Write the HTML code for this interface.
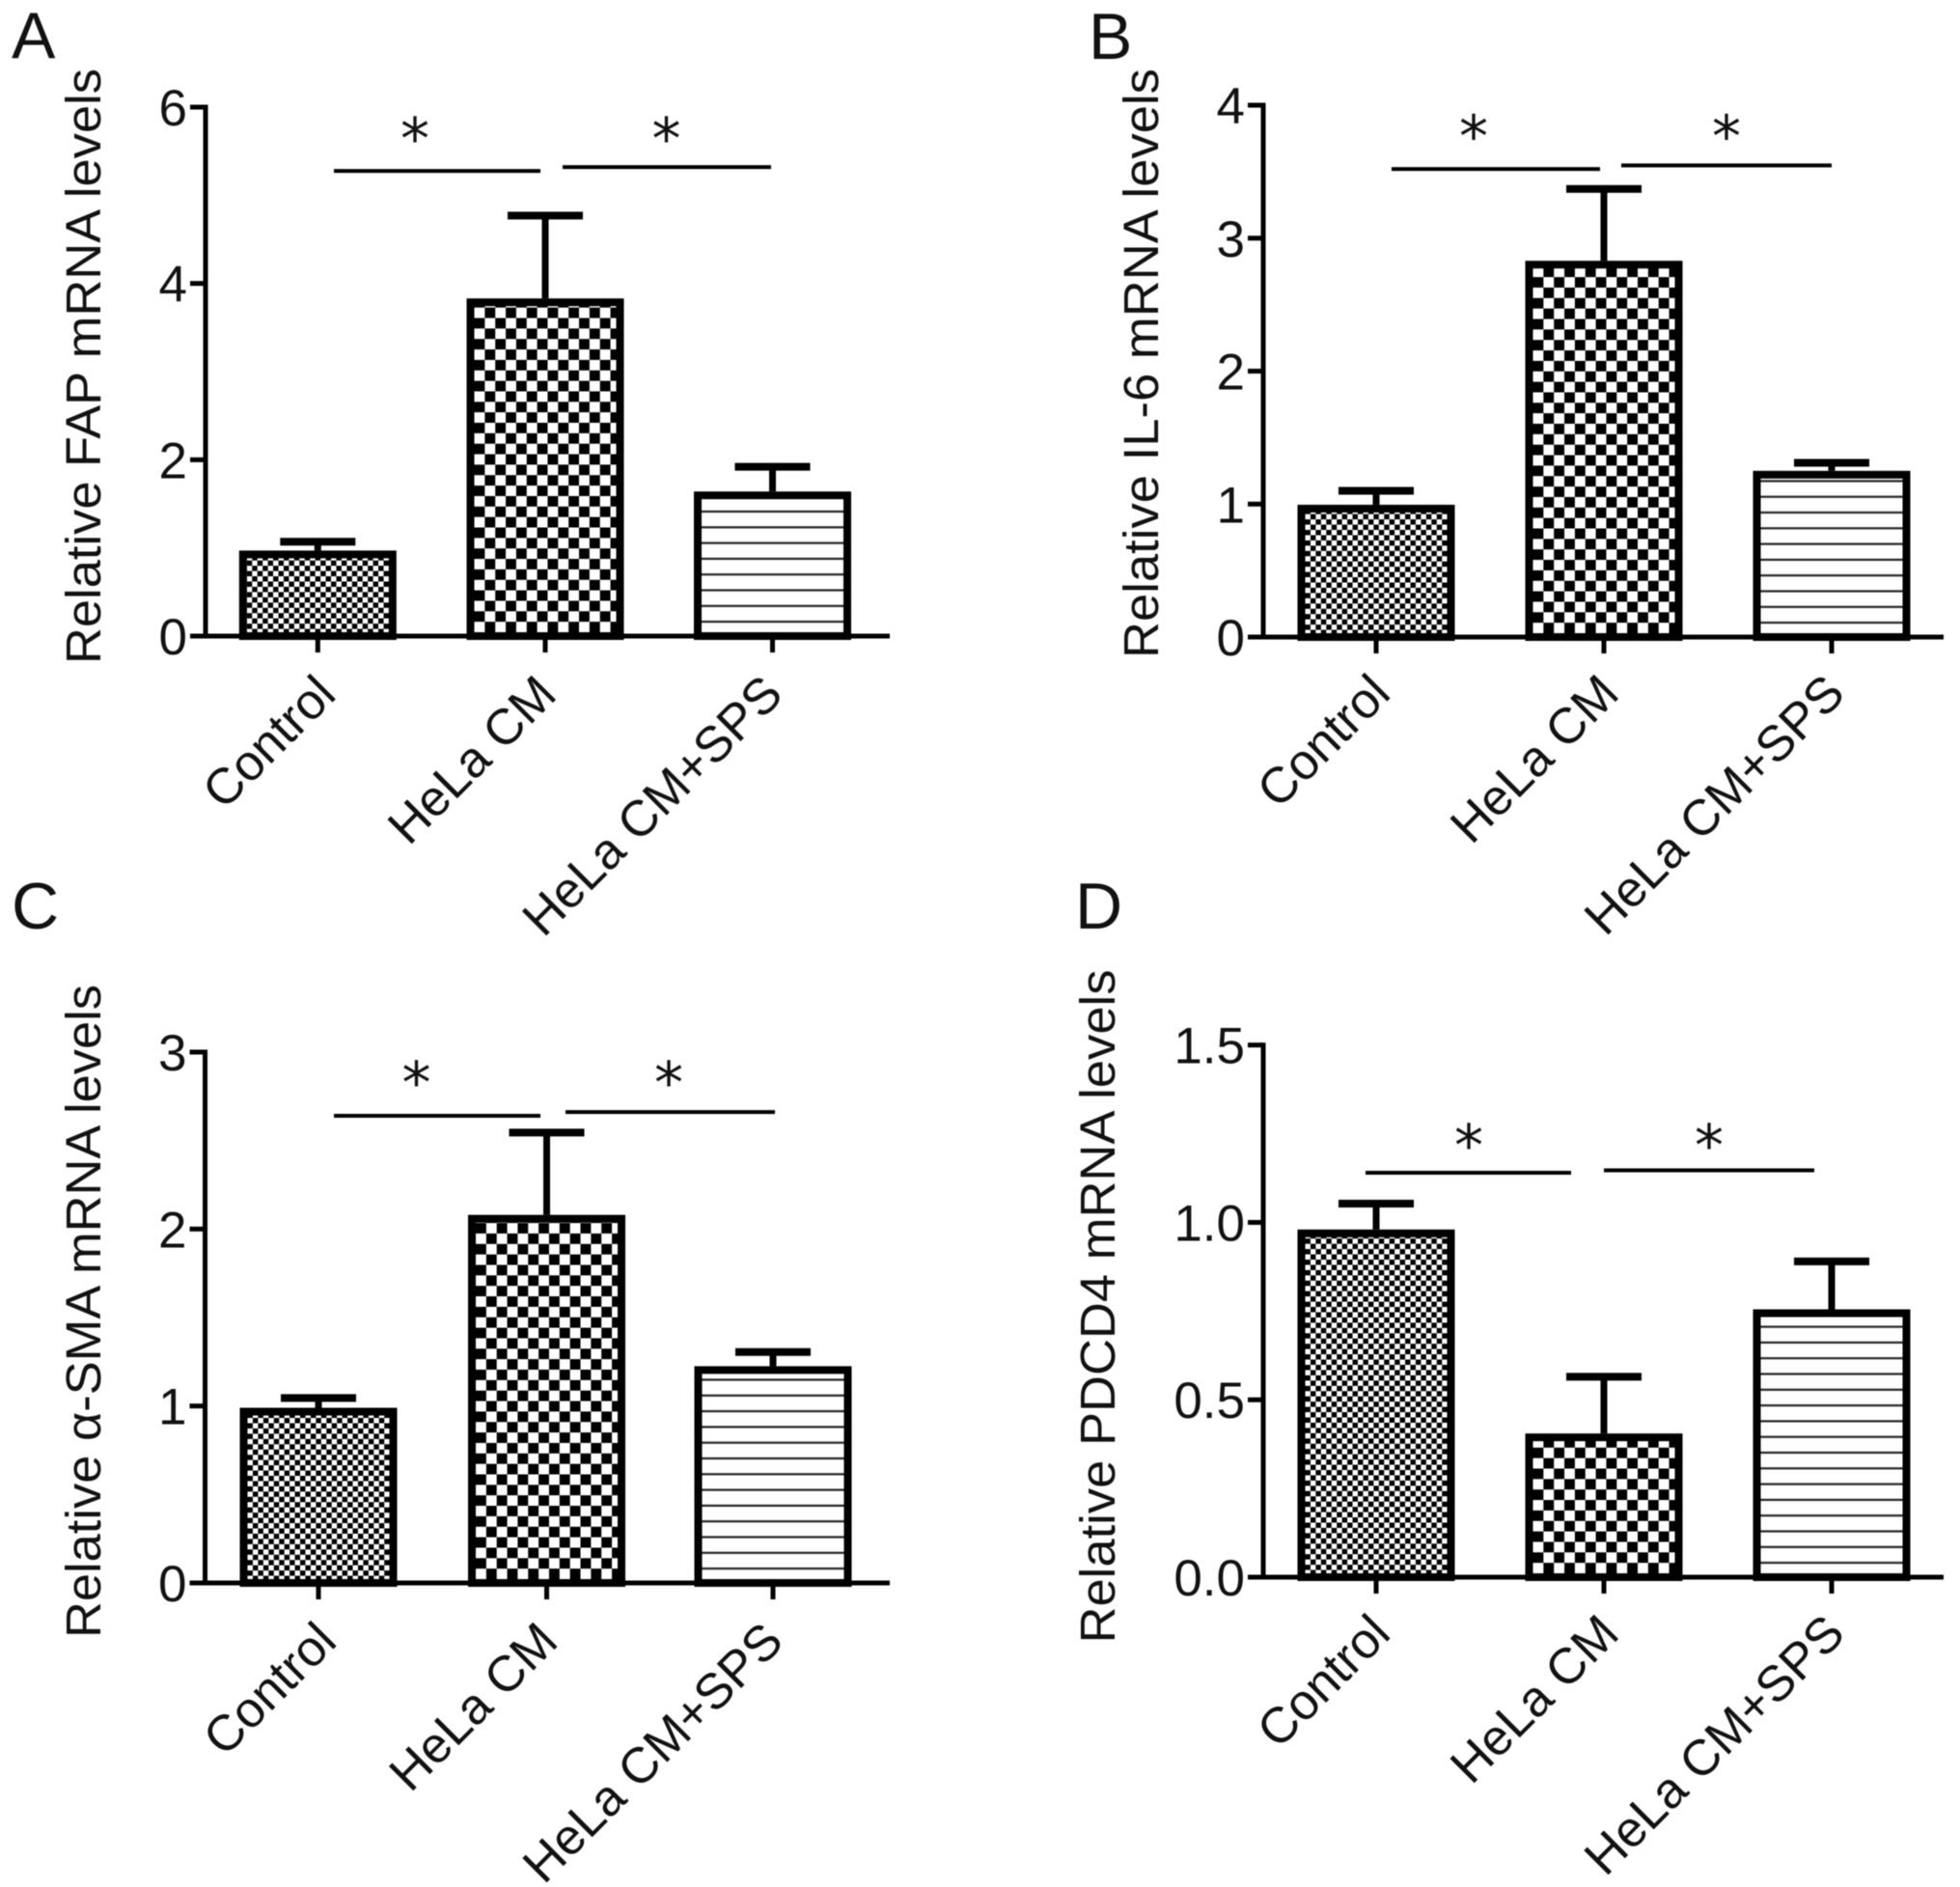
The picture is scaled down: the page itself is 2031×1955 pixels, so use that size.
<!DOCTYPE html>
<html lang="en">
<head>
<meta charset="utf-8">
<title>Relative mRNA levels</title>
<style>
html,body{margin:0;padding:0;background:#fff;}
svg{display:block;}
text{font-family:"Liberation Sans",Arial,sans-serif;fill:#111;}
</style>
</head>
<body>
<svg id="figure" xmlns="http://www.w3.org/2000/svg" width="2031" height="1955" viewBox="0 0 2031 1955">
<defs id="defs"></defs>
<rect x="0" y="0" width="2031" height="1955" fill="#fff"></rect>
<g id="root" style="filter:blur(0.6px)"></g>
</svg>
<script>
const categories = ["Control", "HeLa CM", "HeLa CM+SPS"];

const panelAValues = [0.97, 3.83, 1.64];
const panelAErrors = [0.10, 0.94, 0.28];
const panelATicks = ["0", "2", "4", "6"];
const panelASignificance = [5.276, 5.32];

const panelBValues = [0.995, 2.83, 1.25];
const panelBErrors = [0.105, 0.54, 0.06];
const panelBTicks = ["0", "1", "2", "3", "4"];
const panelBSignificance = [3.52, 3.547];

const panelCValues = [0.99, 2.08, 1.225];
const panelCErrors = [0.055, 0.465, 0.08];
const panelCTicks = ["0", "1", "2", "3"];
const panelCSignificance = [2.64, 2.661];

const panelDValues = [0.98, 0.405, 0.755];
const panelDErrors = [0.073, 0.16, 0.135];
const panelDTicks = ["0.0", "0.5", "1.0", "1.5"];
const panelDSignificance = [1.14, 1.147];

const layouts = [
  {id:"a", letter:"A", lx:12, ly:60, title:"Relative FAP mRNA levels", tx:104, ty:688, tl:617,
   axisX:213, top:111, base:659, right:922, centers:[329.3,565,800.5], sig:[[346,560],[583,799]], star:[430,690.5], starY:164.5,
   labelDx:[21,14,13], labelDy:63,
   values:panelAValues, errors:panelAErrors, ticks:panelATicks, sigv:panelASignificance},
  {id:"b", letter:"B", lx:1128, ly:61, title:"Relative IL-6 mRNA levels", tx:1200, ty:682, tl:611,
   axisX:1309, top:109, base:660, right:2014, centers:[1426,1662,1898], sig:[[1442,1658],[1680,1898]], star:[1527,1789], starY:162,
   labelDx:[17,18,16], labelDy:61,
   values:panelBValues, errors:panelBErrors, ticks:panelBTicks, sigv:panelBSignificance},
  {id:"c", letter:"C", lx:12, ly:962, title:"Relative \u03b1-SMA mRNA levels", tx:104, ty:1697, tl:677,
   axisX:212.5, top:1090, base:1640, right:922, centers:[330,566.5,801], sig:[[346,560],[586,803]], star:[431.5,693], starY:1142.5,
   labelDx:[21,14,13], labelDy:63,
   values:panelCValues, errors:panelCErrors, ticks:panelCTicks, sigv:panelCSignificance},
  {id:"d", letter:"D", lx:1114, ly:962, title:"Relative PDCD4 mRNA levels", tx:1155, ty:1702.5, tl:698,
   axisX:1309, top:1082.7, base:1634, right:2014, centers:[1426,1662,1898], sig:[[1415,1628],[1662,1880]], star:[1522,1771], starY:1207.5,
   labelDx:[17,18,16], labelDy:61,
   values:panelDValues, errors:panelDErrors, ticks:panelDTicks, sigv:panelDSignificance}
];

const NS = "http://www.w3.org/2000/svg";
const root = document.getElementById("root");
const defs = document.getElementById("defs");
const BAR_WIDTH = 163, BORDER = 8, CAP = 78;

function make(tag, parent, attrs, text) {
  const el = document.createElementNS(NS, tag);
  for (const k in attrs) el.setAttribute(k, attrs[k]);
  if (text !== undefined) el.textContent = text;
  parent.appendChild(el);
  return el;
}

function makeFill(kind, id, left, bottom) {
  let p;
  if (kind === 0 || kind === 1) {
    const cell = kind === 0 ? 5.45 : 10.85;
    const anchor = kind === 0 ? bottom - 2 : bottom - 4;
    p = make("pattern", defs, {id:id, patternUnits:"userSpaceOnUse", x:left, y:anchor, width:cell*2, height:cell*2});
    make("rect", p, {x:0, y:0, width:cell*2, height:cell*2, fill:"#fff"});
    make("rect", p, {x:0, y:0, width:cell, height:cell, fill:"#000"});
    make("rect", p, {x:cell, y:cell, width:cell, height:cell, fill:"#000"});
  } else {
    const period = 16.3;
    p = make("pattern", defs, {id:id, patternUnits:"userSpaceOnUse", x:left, y:bottom, width:period, height:period});
    make("rect", p, {x:0, y:0, width:period, height:period, fill:"#fff"});
    make("rect", p, {x:0, y:0.3, width:period, height:2.2, fill:"#222"});
  }
  return "url(#" + id + ")";
}

layouts.forEach(function (panel) {
  const maxValue = parseFloat(panel.ticks[panel.ticks.length - 1]);
  const yScale = function (v) { return panel.base - (v / maxValue) * (panel.base - panel.top); };
  const xScale = function (i) { return panel.centers[i]; };

  const g = make("g", root, {});
  
  

  const letter = make("text", g, {x:panel.lx, y:panel.ly, "font-size":68}, panel.letter);
  
  

  const title = make("text", g, {transform:"translate(" + panel.tx + "," + panel.ty + ") rotate(-90)", "font-size":51, textLength:panel.tl, lengthAdjust:"spacingAndGlyphs"}, panel.title);
  
  

  panel.values.forEach(function (value, i) {
    const cx = xScale(i);
    const yTop = yScale(value);
    const yErr = yScale(value + panel.errors[i]);
    const inner = {x:cx - BAR_WIDTH / 2 + BORDER / 2, y:yTop + BORDER / 2, w:BAR_WIDTH - BORDER, h:panel.base - yTop - BORDER / 2};

    const stem = make("line", g, {x1:cx, x2:cx, y1:yErr, y2:yTop, stroke:"#000", "stroke-width":7});
    
    

    const cap = make("line", g, {x1:cx - CAP / 2, x2:cx + CAP / 2, y1:yErr, y2:yErr, stroke:"#000", "stroke-width":8});
    
    

    const fill = makeFill(i, "fill-" + panel.id + i, inner.x + BORDER / 2, panel.base);
    const bar = make("rect", g, {x:inner.x, y:inner.y, width:inner.w, height:inner.h, fill:fill, stroke:"#000", "stroke-width":BORDER});
    
    

    const tick = make("line", g, {x1:cx, x2:cx, y1:panel.base, y2:panel.base + 17, stroke:"#000", "stroke-width":5});
    
    

    const lx = cx + panel.labelDx[i], ly = panel.base + panel.labelDy;
    const label = make("text", g, {transform:"translate(" + lx + "," + ly + ") rotate(-45)", "text-anchor":"end", "font-size":52}, categories[i]);
    
    
  });

  const yAxis = make("line", g, {x1:panel.axisX, x2:panel.axisX, y1:panel.top - 2.5, y2:panel.base + 2.5, stroke:"#000", "stroke-width":5});
  
  

  const xAxis = make("line", g, {x1:panel.axisX - 16, x2:panel.right, y1:panel.base, y2:panel.base, stroke:"#000", "stroke-width":5});
  
  

  panel.ticks.forEach(function (t) {
    const y = yScale(parseFloat(t));
    const tick = make("line", g, {x1:panel.axisX - 16, x2:panel.axisX, y1:y, y2:y, stroke:"#000", "stroke-width":5});
    
    
    const label = make("text", g, {x:panel.axisX - 19, y:y + 19, "text-anchor":"end", "font-size":53}, t);
    
    
  });

  panel.sigv.forEach(function (v, j) {
    const y = yScale(v);
    const line = make("line", g, {x1:panel.sig[j][0], x2:panel.sig[j][1], y1:y, y2:y, stroke:"#000", "stroke-width":4});
    
    
    const star = make("text", g, {x:panel.star[j], y:panel.starY, "text-anchor":"middle", "font-size":60, style:'font-family:"DejaVu Sans",sans-serif'}, "*");
    
    
  });
});
</script>
</body>
</html>
